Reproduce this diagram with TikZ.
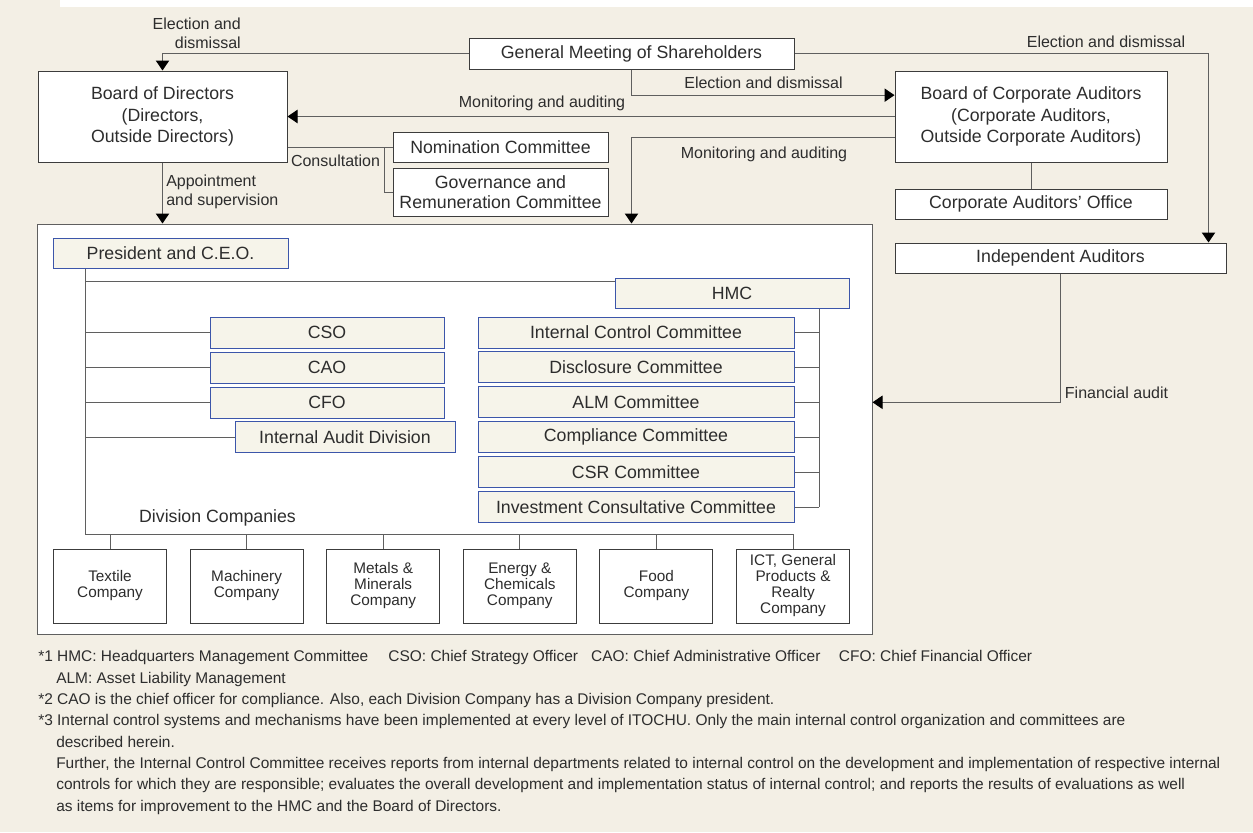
\documentclass[tikz,border=0pt]{standalone}
\usepackage{fontspec}
\setmainfont{Liberation Sans}
\usetikzlibrary{arrows.meta}
\usetikzlibrary{positioning}

\definecolor{bgbeige}{RGB}{243,239,229}
\definecolor{boxcream}{RGB}{246,244,234}
\definecolor{boxblue}{RGB}{60,86,170}
\definecolor{boxline}{RGB}{60,60,60}
\definecolor{linegray}{RGB}{95,95,95}
\definecolor{textgray}{RGB}{45,45,45}

\begin{document}
\begin{tikzpicture}[
    x=0.75pt, y=-0.75pt,
    >={Triangle[width=10pt,length=7.5pt,color=black]},
    every node/.style={text=textgray, inner sep=0pt},
    boxsize/.style 2 args={minimum width=#1*0.75pt, minimum height=#2*0.75pt},
    mainbox/.style={rectangle, draw=boxline, fill=white, line width=0.75pt, align=center, font=\fontsize{13.3}{16}\selectfont},
    unitbox/.style={rectangle, draw=boxblue, fill=boxcream, line width=0.75pt, align=center, font=\fontsize{13.3}{16}\selectfont},
    company/.style={mainbox, boxsize={113}{74}, font=\fontsize{11.5}{12}\selectfont},
    flowlabel/.style={font=\fontsize{12}{14.5}\selectfont},
    link/.style={draw=linegray, line width=0.75pt}
]

% Background
\fill[bgbeige] (0,0) rectangle (1253,832);
\fill[white] (60,0) rectangle (1253,7);
\useasboundingbox (0,0) rectangle (1253,832);

% Governance bodies
\node[mainbox, boxsize={325}{31}] (gms) at (631.5,53.5) {General Meeting of Shareholders};
\node[mainbox, boxsize={249}{91}] (bod) at (162.5,116.5) {Board of Directors\\(Directors,\\Outside Directors)};
\node[mainbox, boxsize={272}{91}] (bca) at (1031,116.5) {Board of Corporate Auditors\\(Corporate Auditors,\\Outside Corporate Auditors)};
\node[mainbox, boxsize={272}{30}] (off) at (1031,204) {Corporate Auditors’ Office};
\node[mainbox, boxsize={331}{30}] (ind) at (1060.5,258) {Independent Auditors};
\node[mainbox, boxsize={215}{30}] (nom) at (500.5,147) {Nomination Committee};
\node[mainbox, boxsize={215}{48}, font=\fontsize{13.3}{15}\selectfont] (gov) at (500.5,192) {Governance and\\Remuneration Committee};

% Execution frame
\node[mainbox, boxsize={835}{410}, draw=linegray] (exec) at (454.5,429) {};

\node[unitbox, boxsize={235}{30}] (pres) at (170.5,253) {President and C.E.O.};
\node[unitbox, boxsize={234}{30}] (hmc) at (732,293) {HMC};
\node[unitbox, boxsize={234}{31}] (cso) at (327,332.5) {CSO};
\node[unitbox, boxsize={234}{31}] (cao) at (327,367.5) {CAO};
\node[unitbox, boxsize={234}{31}] (cfo) at (327,402.5) {CFO};
\node[unitbox, boxsize={220}{31}] (iad) at (345,437) {Internal Audit Division};

\foreach \name [count=\i from 0] in {Internal Control Committee, Disclosure Committee, ALM Committee, Compliance Committee, CSR Committee, Investment Consultative Committee}
  \node[unitbox, boxsize={316}{31}] (cm\i) at (636,332.5+34.9*\i) {\name};

\node[font=\fontsize{13.3}{16}\selectfont] (divlbl) at (217.5,518) {Division Companies};

\foreach \name [count=\i from 0] in {Textile\\Company, Machinery\\Company, Metals \&\\Minerals\\Company, Energy \&\\Chemicals\\Company, Food\\Company, {ICT, General\\Products \&\\Realty\\Company}}
  \node[company] (co\i) at (110+136.6*\i,586) {\name};

% Lines inside the frame
\coordinate (tk) at (85,534);
\coordinate (hk) at (819,507);
\coordinate (hmcin) at ([yshift=-3pt]hmc.north west);
\draw[link] (pres.south -| tk) -- (tk) -- (tk -| co5);
\draw[link] (tk |- hmcin) -- (hmcin);
\foreach \n in {cso,cao,cfo,iad}
  \draw[link] (tk |- \n) -- (\n);
\draw[link] (hmc.south -| hk) -- (hk);
\foreach \i in {0,...,5}
  \draw[link] (cm\i) -- (cm\i -| hk);
\foreach \i in {0,...,5}
  \draw[link] (co\i) -- (co\i |- tk);

% Edges
\draw[link, ->] (gms.west) -| (bod.north);
\draw[link, ->] (gms.east) -| ([xshift=-13.5pt]ind.north east);
\draw[link, ->] (gms.south) |- ([yshift=16pt]bca.west);
\draw[link, ->] (bca.west) -- (bod.east);
\draw[link, ->] ([yshift=-16pt]bca.west) -| (exec.north -| gms.south);
\draw[link, ->] (bod.south) -- (bod.south |- exec.north);
\draw[link] (bod.east |- nom) -- (nom);
\coordinate (cs) at (384,147);
\draw[link] (cs) |- (gov.west);
\draw[link, ->] (ind.south) |- (exec.east |- cm2);
\draw[link] (bca) -- (off);

% Edge labels
\node[flowlabel, anchor=south east, align=right] (lbedl) at (241,49) {Election and\\dismissal};
\node[flowlabel] (lbedr) at (1106,42) {Election and dismissal};
\node[flowlabel] (lbedm) at (763.5,83) {Election and dismissal};
\node[flowlabel] (lbmab) at (542,103) {Monitoring and auditing};
\node[flowlabel] (lbmae) at (764,154) {Monitoring and auditing};
\node[flowlabel] (lbcon) at (335.5,161) {Consultation};
\node[flowlabel, anchor=west, align=left] (lbapp) at (166,192) {Appointment\\and supervision};
\node[flowlabel] (lbfin) at (1116.5,393) {Financial audit};

% Notes
\node[anchor=north west, align=left, font=\fontsize{11.6}{16}\selectfont] (notes) at (38,650.5) {%
*1 HMC: Headquarters Management Committee\hspace{1.3em}CSO: Chief Strategy Officer\hspace{0.85em}CAO: Chief Administrative Officer\hspace{1.2em}CFO: Chief Financial Officer\\
\hspace*{13.5pt}ALM: Asset Liability Management\\
*2 CAO is the chief officer for compliance. Also, each Division Company has a Division Company president.\\
*3 Internal control systems and mechanisms have been implemented at every level of ITOCHU. Only the main internal control organization and committees are\\
\hspace*{13.5pt}described herein.\\
\hspace*{13.5pt}Further, the Internal Control Committee receives reports from internal departments related to internal control on the development and implementation of respective internal\\
\hspace*{13.5pt}controls for which they are responsible; evaluates the overall development and implementation status of internal control; and reports the results of evaluations as well\\
\hspace*{13.5pt}as items for improvement to the HMC and the Board of Directors.};

\end{tikzpicture}
\end{document}
